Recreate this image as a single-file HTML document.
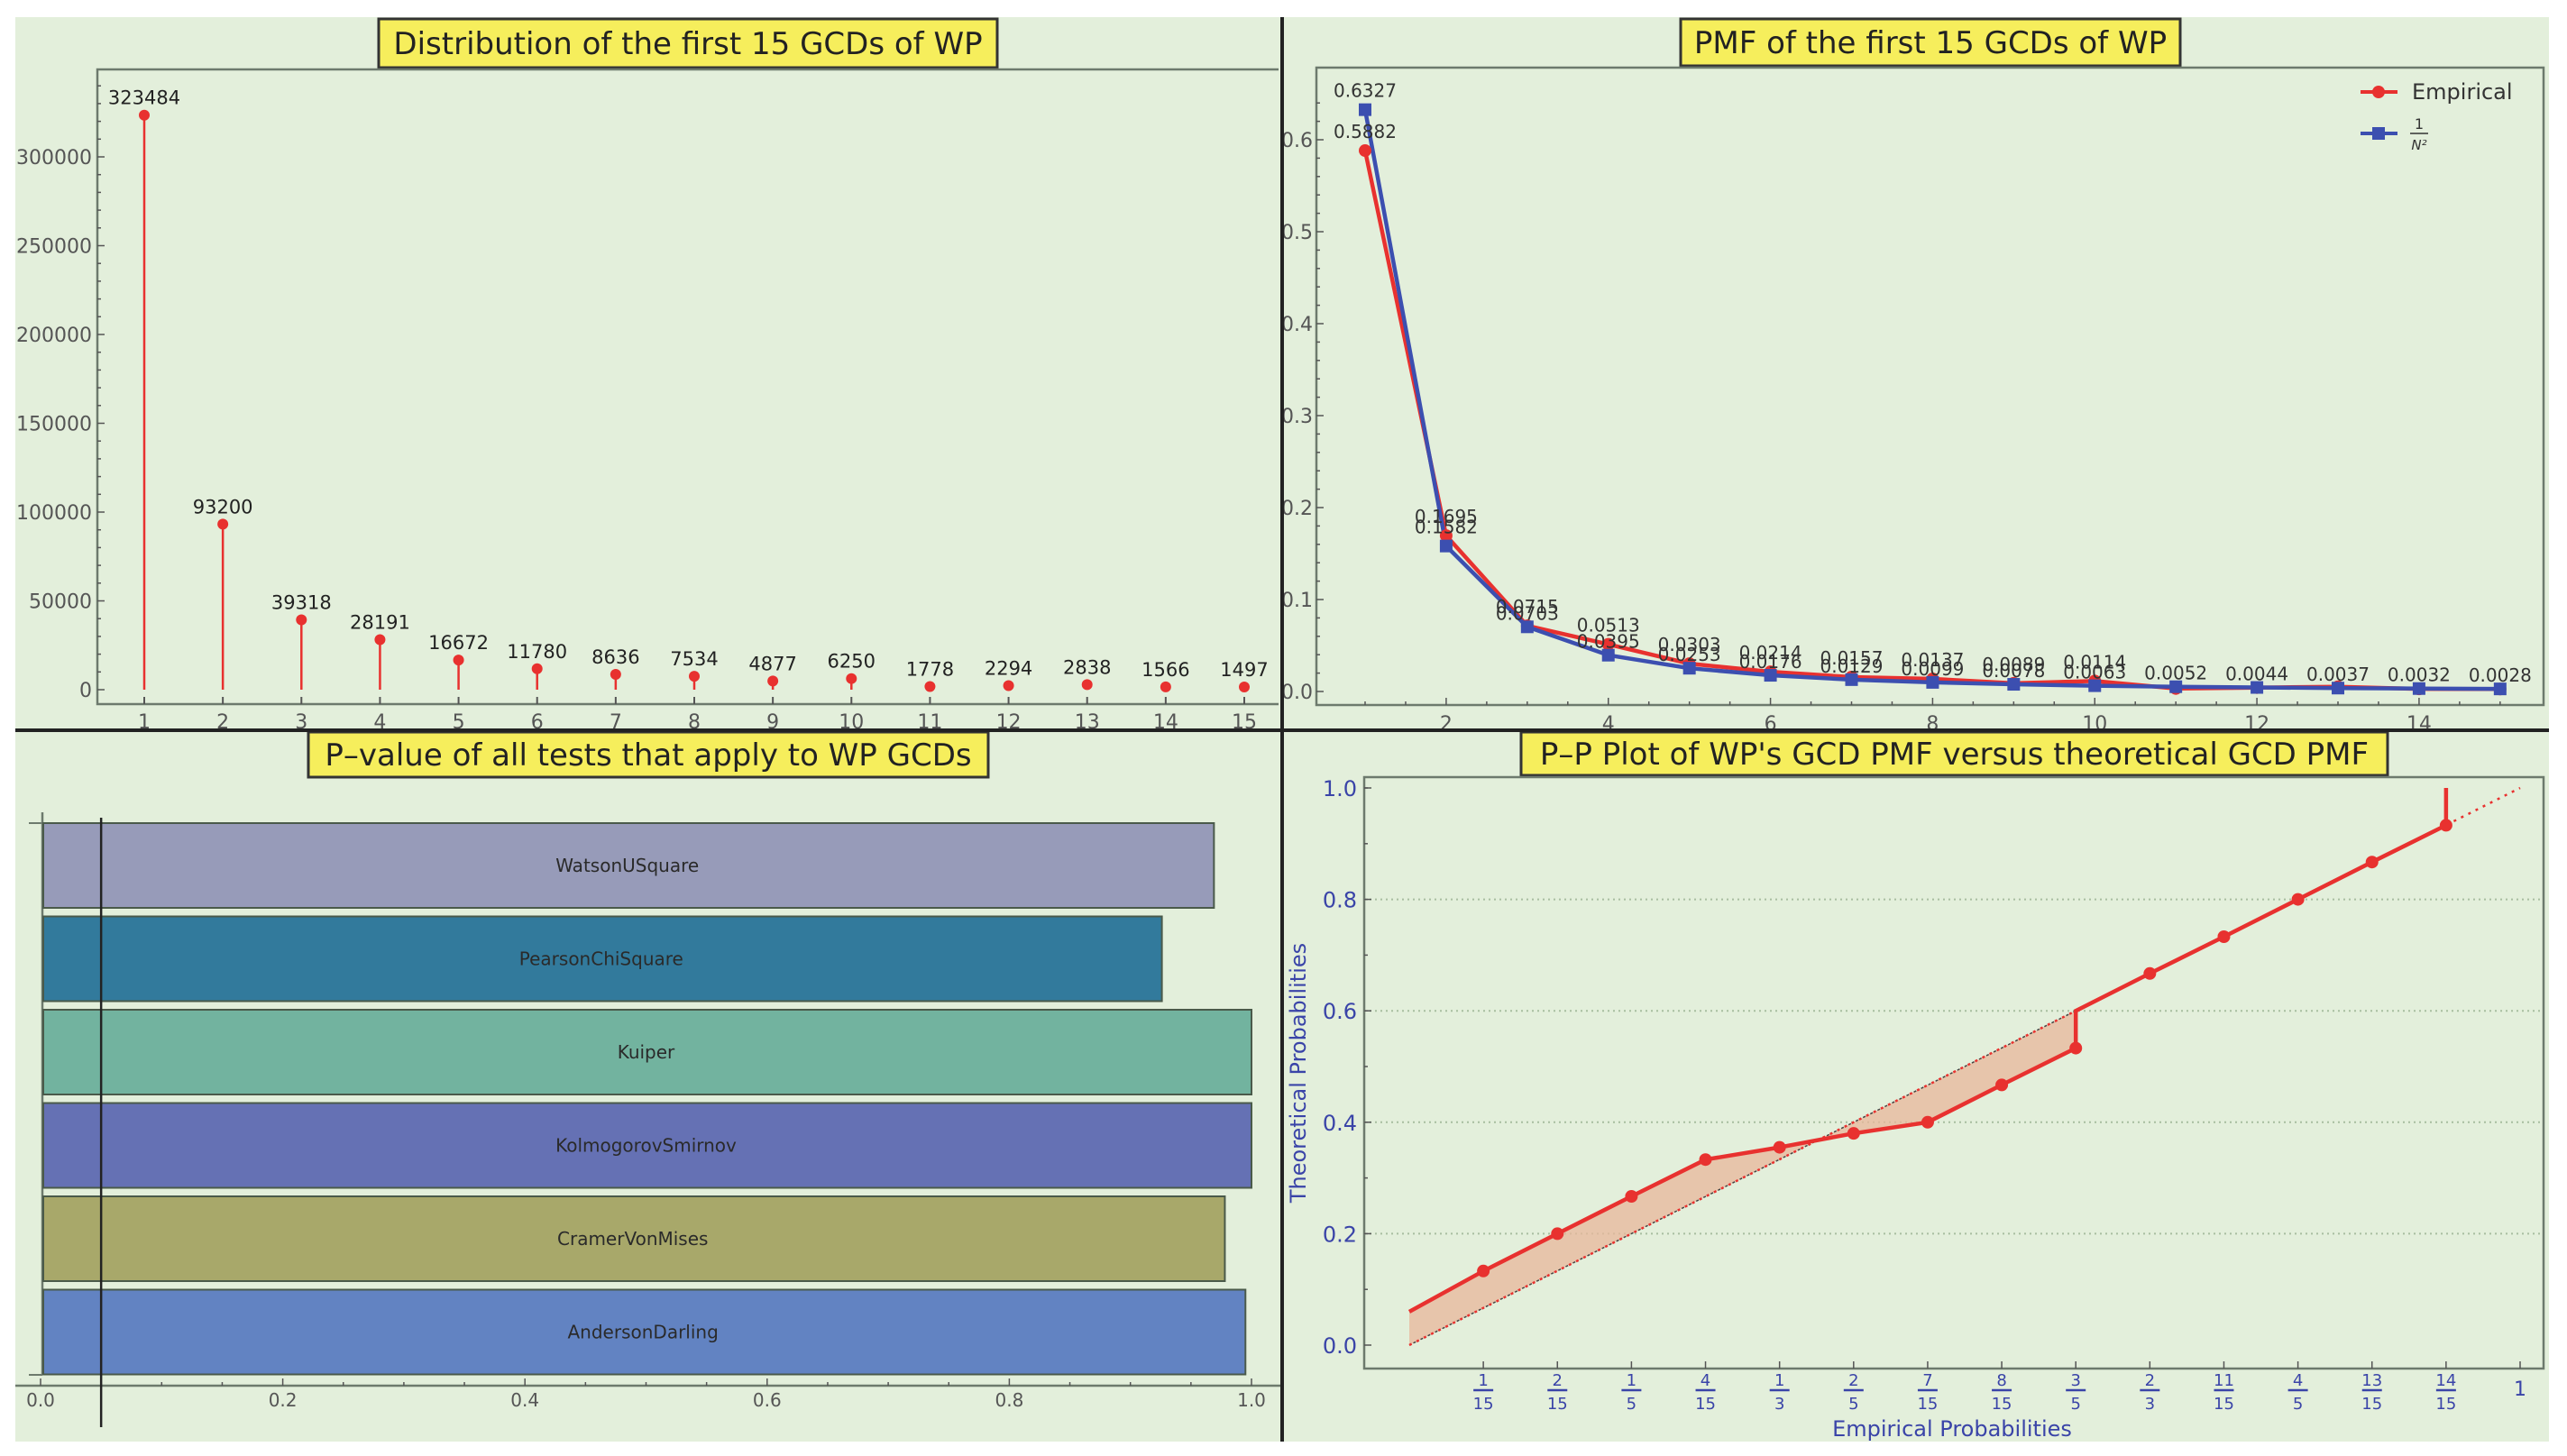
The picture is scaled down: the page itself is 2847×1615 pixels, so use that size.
<!DOCTYPE html>
<html><head><meta charset="utf-8"><style>
html,body{margin:0;padding:0;background:#fff;}
svg{display:block;font-family:"DejaVu Sans","Liberation Sans",sans-serif;}
</style></head><body>
<svg id="s" width="2847" height="1615" viewBox="0 0 2847 1615" xmlns="http://www.w3.org/2000/svg">
<rect x="0" y="0" width="2847" height="1615" fill="#ffffff"/>
<rect x="17" y="19" width="2810" height="1580" fill="#e3efdb"/>
<g id="p1"></g>
<g id="p2"></g>
<g id="p3"></g>
<g id="p4"></g>
<line x1="1422" y1="19" x2="1422" y2="1599" stroke="#222" stroke-width="4"/>
<line x1="17" y1="810" x2="2827" y2="810" stroke="#222" stroke-width="4"/>
</svg>
<script>
// ---------- data ----------
const gcdCategories = [1,2,3,4,5,6,7,8,9,10,11,12,13,14,15];
const gcdCounts = [323484,93200,39318,28191,16672,11780,8636,7534,4877,6250,1778,2294,2838,1566,1497];
const countTicks = [0,50000,100000,150000,200000,250000,300000];

const pmfEmpirical = [0.5882,0.1695,0.0715,0.0513,0.0303,0.0214,0.0157,0.0137,0.0089,0.0114,0.0032,0.0042,0.0052,0.0028,0.0027];
const pmfTheoretical = [0.6327,0.1582,0.0703,0.0395,0.0253,0.0176,0.0129,0.0099,0.0078,0.0063,0.0052,0.0044,0.0037,0.0032,0.0028];
const pmfYTicks = [0.0,0.1,0.2,0.3,0.4,0.5,0.6];
const pmfXTicks = [2,4,6,8,10,12,14];

const testNames = ["WatsonUSquare","PearsonChiSquare","Kuiper","KolmogorovSmirnov","CramerVonMises","AndersonDarling"];
const testPValues = [0.969,0.926,1.0,1.0,0.978,0.995];
const testColors = ["#979bb9","#327a9c","#72b39f","#6571b4","#a8a86a","#6283c2"];
const pTicks = [0.0,0.2,0.4,0.6,0.8,1.0];
const alphaLevel = 0.05;

const ppEmpirical = [0,1/15,2/15,3/15,4/15,5/15,6/15,7/15,8/15,9/15,9/15,10/15,11/15,12/15,13/15,14/15,14/15];
const ppTheoretical = [0.06,0.133,0.2,0.267,0.333,0.355,0.38,0.40,0.467,0.533,0.6,0.667,0.733,0.8,0.867,0.933,1.0];
const ppDots = [1,2,3,4,5,6,7,8,9,11,12,13,14,15];
const ppXNum = ["1","2","1","4","1","2","7","8","3","2","11","4","13","14"];
const ppXDen = ["15","15","5","15","3","5","15","15","5","3","15","5","15","15"];
const ppYTicks = [0.0,0.2,0.4,0.6,0.8,1.0];

// ---------- helpers ----------
const NS="http://www.w3.org/2000/svg";
function mk(parent,tag,attrs,text){const e=document.createElementNS(NS,tag);for(const k in attrs)e.setAttribute(k,attrs[k]);if(text!==undefined)e.textContent=text;parent.appendChild(e);return e;}
function title(g,x,y,w,h,t){
  const r=mk(g,"rect",{x:x,y:y,width:w,height:h,fill:"#f6ee5c",stroke:"#333","stroke-width":3});
  
  
  const tx=mk(g,"text",{x:x+w/2,y:y+h/2+12,"text-anchor":"middle","font-size":34,fill:"#222"},t);
  
  
}

// ---------- Panel 1 ----------
(function(){
  const g=document.getElementById("p1");
  const L=108,T=77,R=1418,B=781;
  const x=c=>160+(c-1)*(1380-160)/14;
  const y=v=>765-v*(765-174)/300000;
  title(g,420,21,686,54,"Distribution of the first 15 GCDs of WP");
  const fr=mk(g,"polyline",{points:`${R},${T} ${L},${T} ${L},${B} ${R},${B}`,fill:"none",stroke:"#6d7a6d","stroke-width":2.5});
  
  
  for(let v=0;v<=340000;v+=10000){const yy=y(v);const major=v%50000===0;mk(g,"line",{x1:L,y1:yy,x2:L+(major?8:4),y2:yy,stroke:"#555","stroke-width":1.5});}
  countTicks.forEach(v=>{const t=mk(g,"text",{x:L-6,y:y(v)+8,"text-anchor":"end","font-size":22,fill:"#555"},String(v));
    
    });
  gcdCategories.forEach((c,i)=>{
    const xx=x(c),yy=y(gcdCounts[i]);
    mk(g,"line",{x1:xx,y1:B,x2:xx,y2:B-8,stroke:"#555","stroke-width":2});
    const tl=mk(g,"text",{x:xx,y:B+27,"text-anchor":"middle","font-size":22,fill:"#555"},String(c));
    
    
    const st=mk(g,"line",{x1:xx,y1:y(0),x2:xx,y2:yy,stroke:"#e8312f","stroke-width":2.5});
    
    
    const d=mk(g,"circle",{cx:xx,cy:yy,r:6,fill:"#e8312f"});
    
    
    const lb=mk(g,"text",{x:xx,y:yy-12,"text-anchor":"middle","font-size":21,fill:"#222"},String(gcdCounts[i]));
    
    
  });
})();

// ---------- Panel 2 ----------
(function(){
  const g=document.getElementById("p2");
  const L=1460,T=75,R=2821,B=782;
  const x=c=>1514+(c-1)*(2683-1604)/12;
  const y=v=>767-v*1020;
  title(g,1864,21,554,52,"PMF of the first 15 GCDs of WP");
  const fr=mk(g,"rect",{x:L,y:T,width:R-L,height:B-T,fill:"none",stroke:"#6d7a6d","stroke-width":2.5});
  
  
  for(let v=0;v<=0.65;v+=0.02){const yy=y(v);mk(g,"line",{x1:L,y1:yy,x2:L+(Math.round(v*100)%10===0?8:4),y2:yy,stroke:"#555","stroke-width":1.5});}
  pmfYTicks.forEach(v=>{const t=mk(g,"text",{x:L-4,y:y(v)+8,"text-anchor":"end","font-size":22,fill:"#555"},v.toFixed(1));
    
    });
  for(let c=1;c<=15;c+=0.5){mk(g,"line",{x1:x(c),y1:B,x2:x(c),y2:B-(c%2===0?8:4),stroke:"#555","stroke-width":1.5});}
  pmfXTicks.forEach(c=>{const t=mk(g,"text",{x:x(c),y:B+28,"text-anchor":"middle","font-size":22,fill:"#555"},String(c));
    
    });
  const pe=mk(g,"polyline",{points:gcdCategories.map((c,i)=>x(c)+","+y(pmfEmpirical[i])).join(" "),fill:"none",stroke:"#e8312f","stroke-width":4.5});
  
  
  const pt=mk(g,"polyline",{points:gcdCategories.map((c,i)=>x(c)+","+y(pmfTheoretical[i])).join(" "),fill:"none",stroke:"#3c4fb0","stroke-width":4.5});
  
  
  gcdCategories.forEach((c,i)=>{
    const d=mk(g,"circle",{cx:x(c),cy:y(pmfEmpirical[i]),r:7,fill:"#e8312f"});
    
    
    const s=mk(g,"rect",{x:x(c)-7,y:y(pmfTheoretical[i])-7,width:14,height:14,fill:"#3c4fb0"});
    
    
    if(c<=10){
      const a=mk(g,"text",{x:x(c),y:y(pmfEmpirical[i])-14,"text-anchor":"middle","font-size":20,fill:"#333"},pmfEmpirical[i].toFixed(4));
      
      
    }
    const b=mk(g,"text",{x:x(c),y:y(pmfTheoretical[i])-(c<=2?14:8),"text-anchor":"middle","font-size":20,fill:"#333"},pmfTheoretical[i].toFixed(4));
    
    
  });
  const l1=mk(g,"line",{x1:2618,y1:102,x2:2659,y2:102,stroke:"#e8312f","stroke-width":4});
  
  
  mk(g,"circle",{cx:2638,cy:102,r:7,fill:"#e8312f"});
  const t1=mk(g,"text",{x:2675,y:110,"font-size":24,fill:"#333"},"Empirical");
  
  
  const l2=mk(g,"line",{x1:2618,y1:148,x2:2659,y2:148,stroke:"#3c4fb0","stroke-width":4});
  
  
  mk(g,"rect",{x:2631,y:141,width:14,height:14,fill:"#3c4fb0"});
  const t2=mk(g,"text",{x:2683,y:143,"font-size":16,fill:"#333","text-anchor":"middle"},"1");
  
  
  mk(g,"line",{x1:2673,y1:148,x2:2693,y2:148,stroke:"#333","stroke-width":1.5});
  mk(g,"text",{x:2683,y:166,"font-size":15,"font-style":"italic",fill:"#333","text-anchor":"middle"},"N²");
})();

// ---------- Panel 3 ----------
(function(){
  const g=document.getElementById("p3");
  const x0=45,x1=1388;
  const x=v=>x0+v*(x1-x0);
  title(g,342,812,754,50,"P–value of all tests that apply to WP GCDs");
  const ax=mk(g,"line",{x1:47,y1:901,x2:47,y2:1524,stroke:"#6d7a6d","stroke-width":2.5});
  
  
  mk(g,"line",{x1:32,y1:913,x2:47,y2:913,stroke:"#6d7a6d","stroke-width":2});
  mk(g,"line",{x1:32,y1:1525,x2:47,y2:1525,stroke:"#6d7a6d","stroke-width":2});
  const bx=mk(g,"line",{x1:17,y1:1537,x2:1420,y2:1537,stroke:"#6d7a6d","stroke-width":2.5});
  
  
  for(let v=0;v<=1.0001;v+=0.05){mk(g,"line",{x1:x(v),y1:1537,x2:x(v),y2:1537-(Math.round(v*100)%20===0?8:4),stroke:"#555","stroke-width":1.5});}
  pTicks.forEach(v=>{const t=mk(g,"text",{x:x(v),y:1560,"text-anchor":"middle","font-size":20,fill:"#555"},v.toFixed(1));
    
    });
  testNames.forEach((n,i)=>{
    const top=913+i*103.5;
    const r=mk(g,"rect",{x:x0+3,y:top,width:x(testPValues[i])-x0-3,height:94,fill:testColors[i],stroke:"#4a5a4a","stroke-width":2});
    
    
    const t=mk(g,"text",{x:(x0+x(testPValues[i]))/2,y:top+54,"text-anchor":"middle","font-size":20,fill:"#2a2a2a"},n);
    
    
  });
  const al=mk(g,"line",{x1:x(alphaLevel),y1:907,x2:x(alphaLevel),y2:1583,stroke:"#222","stroke-width":2.5});
  
  
})();

// ---------- Panel 4 ----------
(function(){
  const g=document.getElementById("p4");
  const L=1513,T=862,R=2821,B=1518;
  const x=v=>1563+v*1232;
  const y=v=>1492-v*618;
  title(g,1687,812,961,48,"P–P Plot of WP's GCD PMF versus theoretical GCD PMF");
  const fr=mk(g,"rect",{x:L,y:T,width:R-L,height:B-T,fill:"none",stroke:"#6d7a6d","stroke-width":2.5});
  
  
  ppYTicks.forEach(v=>{
    if(v>0&&v<1){const gl=mk(g,"line",{x1:L,y1:y(v),x2:R,y2:y(v),stroke:"#a8bea0","stroke-width":2,"stroke-dasharray":"2,4"});
      
      }
    mk(g,"line",{x1:L,y1:y(v),x2:L+8,y2:y(v),stroke:"#555","stroke-width":1.5});
    const t=mk(g,"text",{x:L-8,y:y(v)+9,"text-anchor":"end","font-size":24,fill:"#3a44a8"},v.toFixed(1));
    
    
  });
  for(let v=0.1;v<1;v+=0.1){mk(g,"line",{x1:L,y1:y(v),x2:L+4,y2:y(v),stroke:"#555","stroke-width":1.5});}
  let pts=[];
  for(let i=0;i<ppEmpirical.length;i++){if(ppEmpirical[i]<=0.6+1e-9)pts.push(x(ppEmpirical[i])+","+y(ppTheoretical[i]));}
  pts.push(x(0.6)+","+y(0.6));pts.push(x(0)+","+y(0));
  const sh=mk(g,"polygon",{points:pts.join(" "),fill:"#e8b79b","fill-opacity":0.75});
  
  
  const dg=mk(g,"line",{x1:x(0),y1:y(0),x2:x(1),y2:y(1),stroke:"#e8312f","stroke-width":2.5,"stroke-dasharray":"3,6"});
  
  
  mk(g,"line",{x1:x(0),y1:y(0),x2:x(0.6),y2:y(0.6),stroke:"#444","stroke-width":1.5,"stroke-dasharray":"3,6","stroke-dashoffset":4});
  const ln=mk(g,"polyline",{points:ppEmpirical.map((e,i)=>x(e)+","+y(ppTheoretical[i])).join(" "),fill:"none",stroke:"#e8312f","stroke-width":4.5});
  
  
  ppDots.forEach(i=>{const d=mk(g,"circle",{cx:x(ppEmpirical[i]),cy:y(ppTheoretical[i]),r:7,fill:"#e8312f"});
    
    });
  ppXNum.forEach((n,k)=>{
    const xx=x((k+1)/15);
    mk(g,"line",{x1:xx,y1:B,x2:xx,y2:B-8,stroke:"#555","stroke-width":1.5});
    const a=mk(g,"text",{x:xx,y:B+19,"text-anchor":"middle","font-size":18,fill:"#3a44a8"},n);
    
    
    mk(g,"line",{x1:xx-11,y1:B+24,x2:xx+11,y2:B+24,stroke:"#3a44a8","stroke-width":2.5});
    const b=mk(g,"text",{x:xx,y:B+45,"text-anchor":"middle","font-size":18,fill:"#3a44a8"},ppXDen[k]);
    
    
  });
  mk(g,"line",{x1:x(1),y1:B,x2:x(1),y2:B-8,stroke:"#555","stroke-width":1.5});
  const one=mk(g,"text",{x:x(1),y:B+30,"text-anchor":"middle","font-size":22,fill:"#3a44a8"},"1");
  
  
  const xt=mk(g,"text",{x:2165,y:1593,"text-anchor":"middle","font-size":24,fill:"#3a44a8"},"Empirical Probabilities");
  
  
  const yt=mk(g,"text",{x:0,y:0,"text-anchor":"middle","font-size":24,fill:"#3a44a8",transform:"translate(1448,1190) rotate(-90)"},"Theoretical Probabilities");
  
  
})();
</script>
</body></html>
